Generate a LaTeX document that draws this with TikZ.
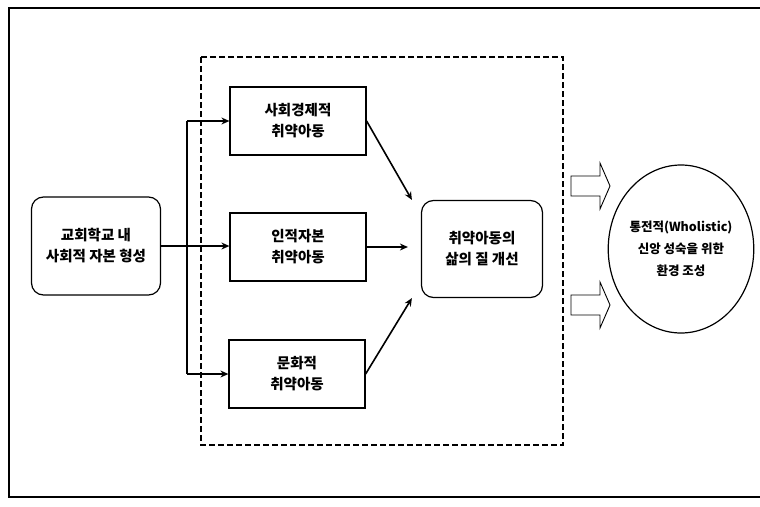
\documentclass[tikz,border=0pt]{standalone}
\usepackage{fontspec}
\setmainfont{Noto Sans CJK KR}
\usetikzlibrary{arrows.meta,shapes.geometric}

\begin{document}
\begin{tikzpicture}[x=1pt, y=-1pt,
    box/.style={rectangle, draw=black, line width=1.2pt, fill=white,
        minimum width=136pt, minimum height=68pt, inner sep=2pt,
        align=center, font=\fontsize{14.5}{21}\selectfont\bfseries},
    roundbox/.style={box, rounded corners=12pt},
    goal/.style={ellipse, draw=black, line width=1.2pt, minimum width=112pt,
        minimum height=168pt, inner sep=0pt, align=center,
        font=\fontsize{12.5}{22}\selectfont\bfseries},
    blockarrow/.style={draw=black, line width=0.9pt, line join=miter},
    edge/.style={line width=1.6pt, -{Stealth[length=8pt, width=7pt]}},
    link/.style={line width=1.6pt}
]
    \useasboundingbox (0,0) rectangle (760,506);
    % frame and group
    \draw[line width=1.2pt] (760,8) -- (9,8) -- (9,497) -- (760,497);
    \draw[line width=1.2pt, dash pattern=on 6pt off 3pt] (201,57) rectangle (563,445);

    \node[roundbox, minimum width=129pt, minimum height=98pt] (src) at (96,246) {교회학교 내\\사회적 자본 형성};
    \node[box] (eco) at (298,121) {사회경제적\\취약아동};
    \node[box] (hum) at (298,247) {인적자본\\취약아동};
    \node[box] (cul) at (297,374) {문화적\\취약아동};
    \node[roundbox, minimum width=121pt, minimum height=97pt] (life) at (482,249) {취약아동의\\삶의 질 개선};
    \node[goal] (env) at (681,249) {통전적(Wholistic)\\신앙 성숙을 위한\\환경 조성};

    % hollow arrows toward the goal
    \coordinate (up) at (590,186);
    \coordinate (down) at (590,305);
    \draw[blockarrow] (up) ++(-19,-10) -- ++(29,0) -- ++(0,-13) -- ++(10,23)
        -- ++(-10,23) -- ++(0,-13) -- ++(-29,0) -- cycle;
    \draw[blockarrow] (down) ++(-19,-10) -- ++(29,0) -- ++(0,-13) -- ++(10,23)
        -- ++(-10,23) -- ++(0,-13) -- ++(-29,0) -- cycle;

    \coordinate (split) at (187,246);
    \draw[link] (src.east) -- (split);
    \draw[link] (split |- eco.west) -- (split |- cul.west);
    \draw[edge] (split |- eco.west) -- (eco.west);
    \draw[edge] (split) -- (split -| hum.west);
    \draw[edge] (split |- cul.west) -- (cul.west);
    \draw[edge] (eco.east) -- ([xshift=-9pt]life.north west);
    \draw[edge] (hum.east) -- ([xshift=-13pt]hum.east -| life.west);
    \draw[edge] (cul.east) -- ([xshift=-9pt]life.south west);
\end{tikzpicture}
\end{document}
